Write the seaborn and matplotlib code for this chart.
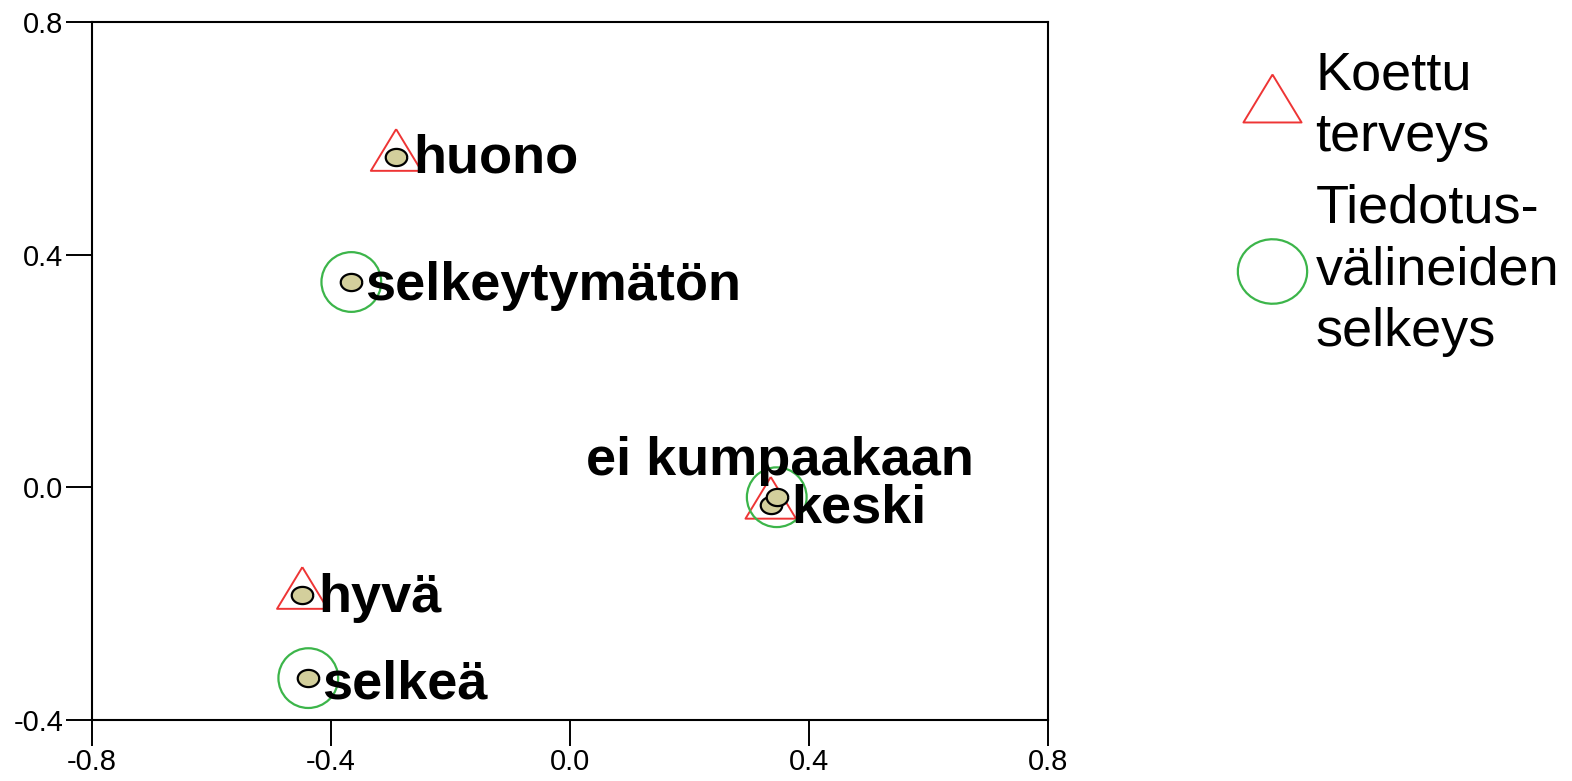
import numpy as np
import pandas as pd
import matplotlib
matplotlib.use('Agg')
import matplotlib.pyplot as plt
from matplotlib.lines import Line2D
import seaborn as sns

# Category coordinates (dimension 1, dimension 2)
health_labels = ['huono', 'keski', 'hyvä']
health_x = [-0.291, 0.336, -0.448]
health_y = [0.568, -0.030, -0.185]

media_labels = ['selkeytymätön', 'ei kumpaakaan', 'selkeä']
media_x = [-0.366, 0.346, -0.438]
media_y = [0.353, -0.017, -0.328]

legend_labels = ['Koettu\nterveys', 'Tiedotus-\nvälineiden\nselkeys']
x_ticks = [-0.8, -0.4, 0.0, 0.4, 0.8]
y_ticks = [-0.4, 0.0, 0.4, 0.8]

df = pd.DataFrame({
    'label': health_labels + media_labels,
    'x': health_x + media_x,
    'y': health_y + media_y,
    'group': ['health'] * 3 + ['media'] * 3,
})

sns.set_style('white')
plt.rcParams['font.family'] = ['Liberation Sans', 'DejaVu Sans']
plt.rcParams['text.color'] = 'black'
plt.rcParams['xtick.color'] = 'black'
plt.rcParams['ytick.color'] = 'black'
plt.rcParams['axes.labelcolor'] = 'black'

RED = '#ee3535'
GREEN = '#3cb54a'
TAN = '#d3cf9c'

# triangle centred on its centroid, small ellipse for the dots
tri = [(0, 1), (-0.91, -0.5), (0.91, -0.5), (0, 1)]
t = np.linspace(0, 2 * np.pi, 40)
ell = list(zip(np.cos(t), 0.8 * np.sin(t)))
ell_wide = list(zip(np.cos(t), 0.93 * np.sin(t)))

fig = plt.figure(figsize=(15.72, 7.81), dpi=100)
ax = fig.add_axes([92 / 1572, 1 - 720 / 781, 956 / 1572, 698 / 781])

health = df[df['group'] == 'health']
media = df[df['group'] == 'media']

sns.scatterplot(data=health, x='x', y='y', marker=tri, s=40 ** 2,
                facecolors='none', edgecolor=RED, linewidth=1.4, ax=ax, zorder=2)
sns.scatterplot(data=media, x='x', y='y', marker='o', s=43 ** 2,
                facecolors='none', edgecolor=GREEN, linewidth=1.6, ax=ax, zorder=2)
sns.scatterplot(data=df, x='x', y='y', marker=ell, s=15.5 ** 2,
                color=TAN, edgecolor='black', linewidth=1.6, ax=ax, zorder=3)

# label offsets in points (baseline, left aligned)
offsets = {
    'huono': (12, -11.5),
    'keski': (15, -13),
    'hyvä': (11.5, -12),
    'selkeytymätön': (10, -13),
    'ei kumpaakaan': (-137, 16),
    'selkeä': (10, -14.5),
}
for _, row in df.iterrows():
    ax.annotate(row['label'], (row['x'], row['y']), xytext=offsets[row['label']],
                textcoords='offset points', ha='left', va='baseline',
                fontsize=39, fontweight='bold', color='black', zorder=4)

ax.set_xlim(-0.8, 0.8)
ax.set_ylim(-0.4, 0.8)
ax.set_xticks(x_ticks)
ax.set_yticks(y_ticks)
ax.set_xticklabels([f'{v:.1f}' for v in x_ticks])
ax.set_yticklabels([f'{v:.1f}' for v in y_ticks])
ax.set_xlabel('')
ax.set_ylabel('')
ax.tick_params(axis='both', direction='out', length=18.5, width=1.4,
               color='black', labelcolor='black', labelsize=21, pad=2,
               bottom=True, left=True)
for sp in ax.spines.values():
    sp.set_color('black')
    sp.set_linewidth(1.5)

handles = [
    Line2D([], [], ls='', marker=tri, markersize=46, mfc='none', mec=RED, mew=1.4),
    Line2D([], [], ls='', marker=ell_wide, markersize=50, mfc='none', mec=GREEN, mew=1.6),
]
leg = fig.legend(handles, legend_labels, loc='upper left',
                 bbox_to_anchor=(1245 / 1572, 1 - 50 / 781), frameon=False,
                 fontsize=39, handlelength=1.0, handletextpad=0.3,
                 borderpad=0, borderaxespad=0, labelspacing=0.4)
for txt in leg.get_texts():
    txt.set_linespacing(1.3)
    txt.set_color('black')

fig.savefig('out.png', dpi=100)
